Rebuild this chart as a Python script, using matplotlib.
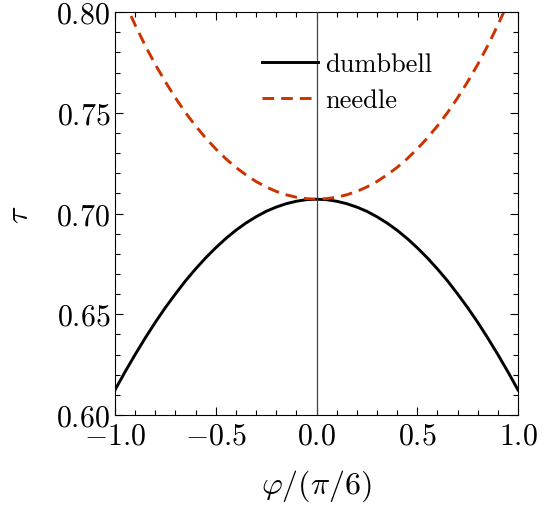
import matplotlib
matplotlib.use("Agg")
import matplotlib.pyplot as plt
from matplotlib.ticker import MultipleLocator

# values (x in units of pi/6), right half; curves are mirror-symmetric
phi_half = [0.0, 0.05, 0.1, 0.15, 0.2, 0.25, 0.3, 0.35, 0.4, 0.45, 0.5,
            0.55, 0.6, 0.65, 0.7, 0.75, 0.8, 0.85, 0.9, 0.95, 1.0]
dumbbell_half = [0.7071, 0.7069, 0.7061, 0.7049, 0.7032, 0.7011, 0.6984, 0.6953, 0.6917, 0.6876, 0.6830,
                 0.6780, 0.6725, 0.6666, 0.6601, 0.6533, 0.6460, 0.6382, 0.6300, 0.6214, 0.6124]
needle_half = [0.7071, 0.7074, 0.7081, 0.7093, 0.7110, 0.7132, 0.7159, 0.7192, 0.7229, 0.7272, 0.7321,
               0.7375, 0.7435, 0.7501, 0.7574, 0.7654, 0.7740, 0.7834, 0.7936, 0.8046, 0.8165]

phi = [-p for p in phi_half[:0:-1]] + phi_half
tau_dumbbell = dumbbell_half[:0:-1] + dumbbell_half
tau_needle = needle_half[:0:-1] + needle_half

plt.rcParams['font.family'] = 'serif'
plt.rcParams['font.serif'] = ['cmr10']
plt.rcParams['mathtext.fontset'] = 'cm'
plt.rcParams['axes.formatter.use_mathtext'] = True

fig = plt.figure(figsize=(5.54, 5.06), dpi=100)
ax = fig.add_axes([0.2076, 0.178, 0.7274, 0.796])

ax.plot(phi, tau_dumbbell, color='black', lw=2.1, label='dumbbell')
ax.plot(phi, tau_needle, color='#cc3300', lw=2.1, ls=(0, (4.0, 2.4)), label='needle')
ax.axvline(0, color='#444444', lw=0.9, zorder=5)

ax.set_xlim(-1, 1)
ax.set_ylim(0.60, 0.80)
ax.xaxis.set_minor_locator(MultipleLocator(0.1))
ax.yaxis.set_minor_locator(MultipleLocator(0.01))
ax.set_xticks([-1, -0.5, 0, 0.5, 1])
ax.set_xticklabels([r'$-1.0$', r'$-0.5$', r'$0.0$', r'$0.5$', r'$1.0$'])
ax.set_yticks([0.60, 0.65, 0.70, 0.75, 0.80])
ax.set_yticklabels([r'$0.60$', r'$0.65$', r'$0.70$', r'$0.75$', r'$0.80$'])
ax.tick_params(which='both', direction='in', top=True, right=True, labelsize=21.5)
ax.tick_params(which='major', length=6, width=0.8)
ax.tick_params(which='minor', length=3.5, width=0.8)
ax.tick_params(axis='x', pad=5)

ax.set_xlabel(r'$\varphi/(\pi/6)$', fontsize=23, labelpad=13)
ax.set_ylabel(r'$\tau$', fontsize=23, labelpad=16)

ax.legend(loc='upper left', bbox_to_anchor=(0.365, 0.90), frameon=False,
          borderpad=0, borderaxespad=0,
          fontsize=19, handlelength=2.1, handletextpad=0.3, labelspacing=0.45)

plt.savefig('out.png', dpi=100)
